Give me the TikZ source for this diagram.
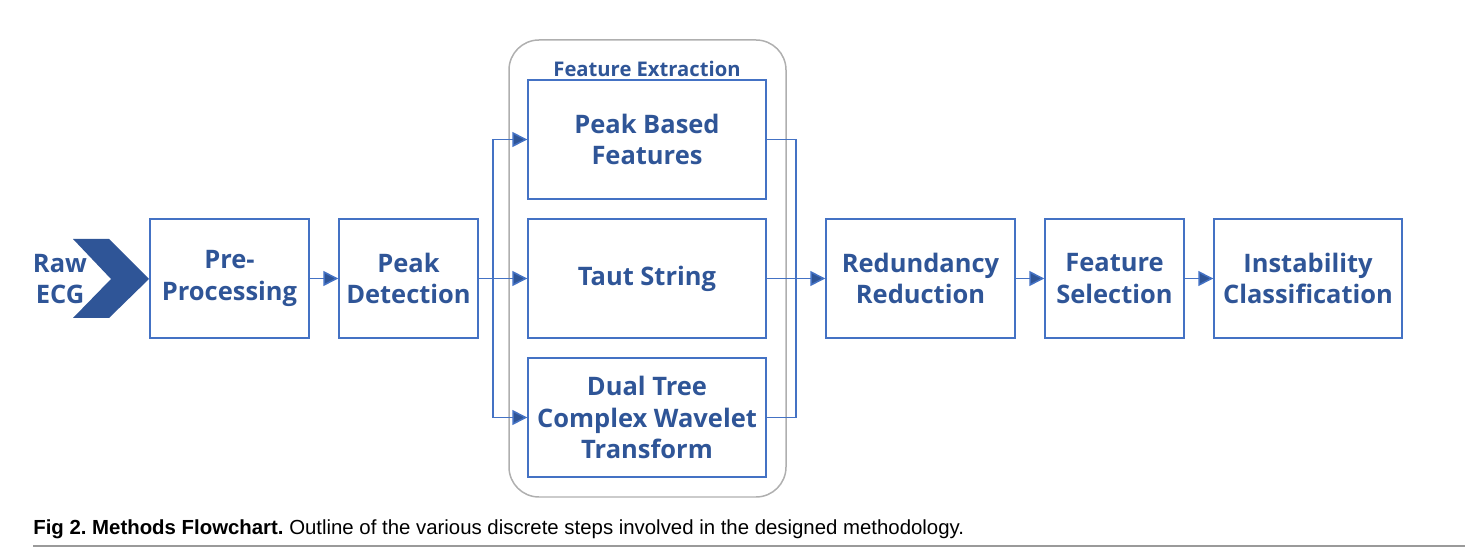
\documentclass[tikz,border=0pt]{standalone}
\usepackage{fontspec}
\setmainfont{Liberation Sans}
\newfontfamily\boxfont{Open Sans}
\usetikzlibrary{arrows.meta,positioning}
\frenchspacing

\definecolor{blutesto}{HTML}{2F5597}
\definecolor{blubordo}{HTML}{4472C4}
\definecolor{grigio}{HTML}{AFAFAF}
\definecolor{grigioriga}{HTML}{9A9A9A}

\tikzset{
  passo/.style={draw=blubordo, line width=0.85pt, text=blutesto, align=center,
    inner sep=0pt, minimum height=2.38cm,
    font=\boxfont\bfseries\fontsize{14.5}{18}\selectfont},
  freccia/.style={draw=blubordo, line width=0.85pt,
    -{Triangle[length=0.3cm,width=0.3cm,fill=blutesto]}},
  linea/.style={draw=blubordo, line width=0.85pt}
}

\begin{document}
\begin{tikzpicture}[x=0.02cm,y=-0.02cm]

    \useasboundingbox (0,0) rectangle (1465,550);

    % Contenitore estrazione feature
    \draw[grigio, line width=0.85pt, rounded corners=0.6cm] (509,40) rectangle (786,497);
    \node[text=blutesto, font=\boxfont\bfseries\fontsize{11.5}{14}\selectfont] (titolo) at (647,69) {Feature Extraction};

    % Freccia di ingresso
    \fill[blutesto] (73,239) -- (109,239) -- (149,279) -- (109,318) -- (73,318) -- (111,279) -- cycle;
    \node[text=blutesto, align=center, font=\boxfont\bfseries\fontsize{14.5}{18}\selectfont] (raw) at (60,279) {Raw\\ECG};

    % Blocchi
    \node[passo, minimum width=3.18cm] (pre) at (229.5,278.5) {Pre-\\Processing};
    \node[passo, minimum width=2.78cm] (peak) at (408.5,278.5) {Peak\\Detection};
    \node[passo, minimum width=4.76cm] (pbf) at (647,139.5) {Peak Based\\Features};
    \node[passo, minimum width=4.76cm] (taut) at (647,278.5) {Taut String};
    \node[passo, minimum width=4.76cm] (dtcwt) at (647,417.5) {Dual Tree\\Complex Wavelet\\Transform};
    \node[passo, minimum width=3.78cm] (red) at (920.5,278.5) {Redundancy\\Reduction};
    \node[passo, minimum width=2.78cm] (fsel) at (1114.5,278.5) {Feature\\Selection};
    \node[passo, minimum width=3.76cm] (cls) at (1308,278.5) {Instability\\Classification};

    % Diramazione e ricongiungimento
    \coordinate (split) at (493,278.5);
    \coordinate (merge) at (796,278.5);

    % Frecce
    \draw[freccia] (pre) -- (peak);
    \draw[freccia] (peak) -- (taut);
    \draw[freccia] (split) |- (pbf.west);
    \draw[freccia] (split) |- (dtcwt.west);
    \draw[linea] (pbf.east) -| (merge);
    \draw[linea] (dtcwt.east) -| (merge);
    \draw[freccia] (taut) -- (red);
    \draw[freccia] (red) -- (fsel);
    \draw[freccia] (fsel) -- (cls);

    % Didascalia
    \node[anchor=base west, inner sep=0pt, font=\fontsize{11.6}{13}\selectfont] (didascalia) at (33,535)
      {\textbf{Fig 2. Methods Flowchart.} Outline of the various discrete steps involved in the designed methodology.};
    \draw[grigioriga, line width=1.7pt] (33,546) -- (1465,546);

\end{tikzpicture}
\end{document}
